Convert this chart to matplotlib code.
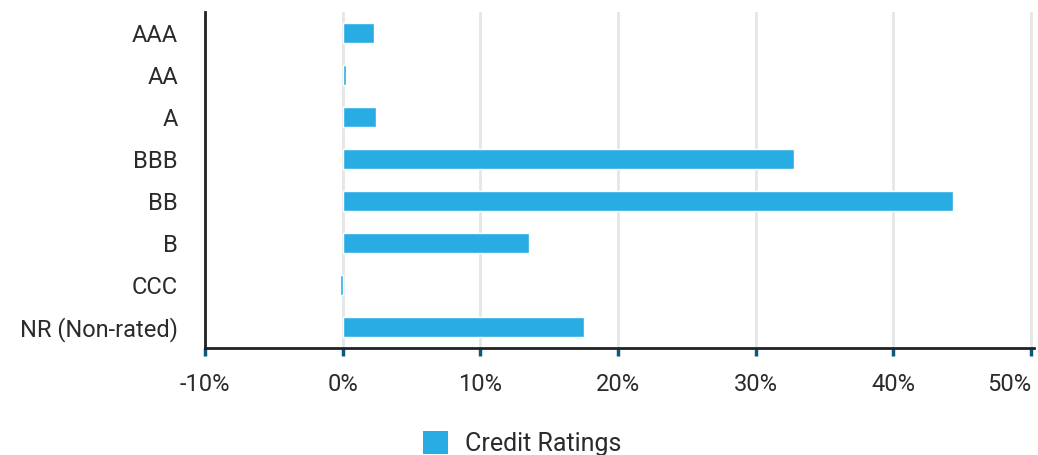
import matplotlib
matplotlib.use("Agg")
import matplotlib.pyplot as plt
from matplotlib.ticker import FuncFormatter
from matplotlib.patches import Patch

categories = ["AAA", "AA", "A", "BBB", "BB", "B", "CCC", "NR (Non-rated)"]
values = [2.25, 0.25, 2.4, 32.8, 44.3, 13.55, -0.2, 17.5]
xticks = [-10, 0, 10, 20, 30, 40, 50]
series_name = "Credit Ratings"

BLUE = "#29ace3"
TEXT = "#2b2b2b"

plt.rcParams['font.family'] = ['Roboto', 'DejaVu Sans']

fig = plt.figure(figsize=(10.38, 4.55), dpi=100)
ax = fig.add_axes([0.1975, 0.2352, 0.7985, 0.7384])

y = list(range(len(categories)))
ax.barh(y, values, height=0.48, color=BLUE, edgecolor="white", linewidth=1, zorder=2)
ax.set_ylim(len(categories) - 0.5, -0.5)
ax.set_xlim(-10, 50.2)
ax.set_xticks(xticks)
ax.xaxis.set_major_formatter(FuncFormatter(lambda v, p: f"{v:.0f}%"))
ax.set_yticks(y)
ax.set_yticklabels(categories)

ax.grid(axis="x", color="#e6e6e6", linewidth=2, zorder=0)
ax.set_axisbelow(True)
for s in ["top", "right"]:
    ax.spines[s].set_visible(False)
ax.spines["left"].set_color("#222222")
ax.spines["left"].set_linewidth(2)
ax.spines["bottom"].set_color("#222222")
ax.spines["bottom"].set_linewidth(2)

ax.tick_params(axis="x", direction="out", length=6, width=2.5, color="#0d5a7e",
               labelsize=17, labelcolor=TEXT, pad=12)
ax.tick_params(axis="y", length=0, labelsize=17, labelcolor=TEXT, pad=19.5)
fig.canvas.draw()
ax.get_xticklabels()[-1].set_horizontalalignment("right")

handle = Patch(facecolor=BLUE, edgecolor="none")
fig.legend([handle], [series_name], loc="center", bbox_to_anchor=(0.503, 0.025),
           frameon=False, fontsize=18, handlelength=1.0, handleheight=1.0,
           handletextpad=0.7, labelcolor=TEXT)

fig.savefig("out.png", dpi=100)
